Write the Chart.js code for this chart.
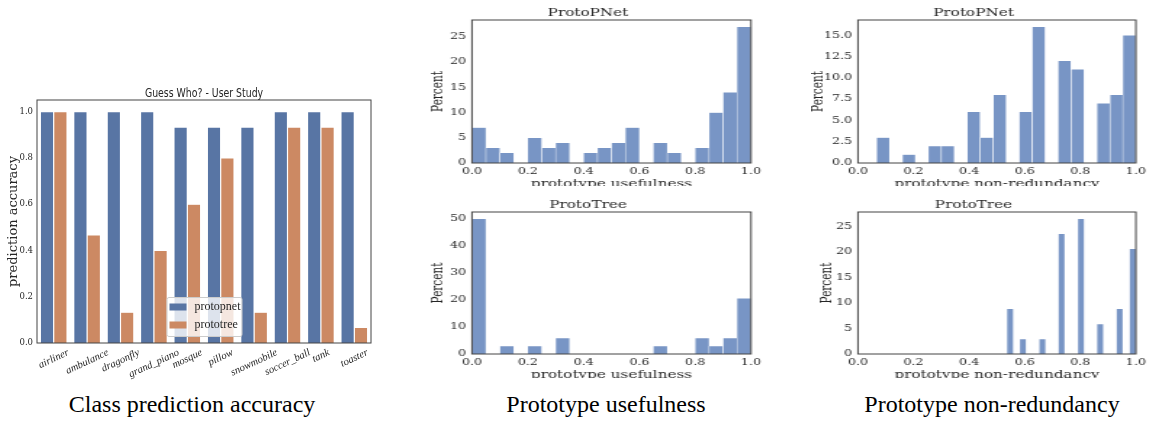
<!DOCTYPE html>
<html>
<head>
<meta charset="utf-8">
<script src="https://cdn.jsdelivr.net/npm/chart.js@4.4.1/dist/chart.umd.min.js"></script>
<style>
  html, body { margin: 0; padding: 0; background: #fff; }
  body { width: 1151px; height: 421px; position: relative; overflow: hidden; }
  .clip { position: absolute; overflow: hidden; }
  .stretch { transform-origin: 0 0; transform: scaleX(1.45); }
  .caption { position: absolute; top: 392px; font-family: 'Liberation Serif', 'Times New Roman', serif;
             font-size: 24px; line-height: 24px; color: #000; white-space: nowrap; transform: translateX(-50%); }
</style>
</head>
<body>
<div class="clip" style="left:0;top:80px;width:380px;height:305px"><canvas id="acc" width="380" height="305"></canvas></div>
<div class="clip" style="left:425px;top:0;width:345px;height:186px"><div class="stretch"><canvas id="useP" width="238" height="200"></canvas></div></div>
<div class="clip" style="left:425px;top:192px;width:345px;height:186px"><div class="stretch"><canvas id="useT" width="238" height="200"></canvas></div></div>
<div class="clip" style="left:811px;top:0;width:340px;height:186px"><div class="stretch"><canvas id="redP" width="234" height="200"></canvas></div></div>
<div class="clip" style="left:811px;top:192px;width:340px;height:186px"><div class="stretch"><canvas id="redT" width="234" height="200"></canvas></div></div>
<div class="caption" style="left:192px">Class prediction accuracy</div>
<div class="caption" style="left:606px">Prototype usefulness</div>
<div class="caption" style="left:992px">Prototype non-redundancy</div>
<script>
// --- user study accuracy per class
const classes = ['airliner', 'ambulance', 'dragonfly', 'grand_piano', 'mosque', 'pillow', 'snowmobile', 'soccer_ball', 'tank', 'toaster'];
const protopnetAcc = [1.0, 1.0, 1.0, 1.0, 0.933, 0.933, 0.933, 1.0, 1.0, 1.0];
const prototreeAcc = [1.0, 0.467, 0.133, 0.4, 0.6, 0.8, 0.133, 0.933, 0.933, 0.067];

// --- histograms (percent per bin), bin left edges
const usefulEdges = [0, 0.05, 0.10, 0.15, 0.20, 0.25, 0.30, 0.35, 0.40, 0.45, 0.50, 0.55, 0.60, 0.65, 0.70, 0.75, 0.80, 0.85, 0.90, 0.95];
const usefulWidth = 0.05;
const pnetUseful = [7, 3, 2, 0, 5, 3, 4, 0, 2, 3, 4, 7, 0, 4, 2, 0, 3, 10, 14, 27];
const treeUseful = [50, 0, 2.94, 0, 2.94, 0, 5.88, 0, 0, 0, 0, 0, 0, 2.94, 0, 0, 5.88, 2.94, 5.88, 20.59];

const pnetRedEdges = [0.067, 0.113, 0.160, 0.207, 0.253, 0.300, 0.347, 0.393, 0.440, 0.487, 0.533, 0.580, 0.627, 0.673, 0.720, 0.767, 0.813, 0.860, 0.907, 0.953];
const pnetRedWidth = 0.0467;
const pnetNonRed = [3, 0, 1, 0, 2, 2, 0, 6, 3, 8, 0, 6, 16, 0, 12, 11, 0, 7, 8, 15];

const treeRedEdges = [0.536, 0.559, 0.582, 0.605, 0.628, 0.652, 0.675, 0.698, 0.721, 0.744, 0.768, 0.791, 0.814, 0.837, 0.860, 0.884, 0.907, 0.930, 0.953, 0.977];
const treeRedWidth = 0.0232;
const treeNonRed = [8.82, 0, 2.94, 0, 0, 2.94, 0, 0, 23.53, 0, 0, 26.47, 0, 0, 5.88, 0, 0, 8.82, 0, 20.59];

const INK = '#262626';
const SPINE = '#444444';
const SERIF = "'DejaVu Serif', serif";
const HIST_COLOR = '#7895c5';

// box round the plot area (matplotlib style spines)
const frame = {
  id: 'frame',
  afterDatasetsDraw(chart) {
    const {ctx, chartArea: a} = chart;
    ctx.save();
    ctx.strokeStyle = SPINE;
    ctx.lineWidth = 1;
    ctx.strokeRect(a.left, a.top, a.right - a.left, a.bottom - a.top);
    ctx.restore();
  }
};

// narrow title of the left figure
const narrowTitle = {
  id: 'narrowTitle',
  afterDraw(chart, args, opts) {
    const {ctx, chartArea: a} = chart;
    ctx.save();
    ctx.font = '13px "DejaVu Sans", sans-serif';
    ctx.fillStyle = INK;
    ctx.textAlign = 'center';
    ctx.textBaseline = 'alphabetic';
    ctx.translate((a.left + a.right) / 2, a.top - 3);
    ctx.scale(0.72, 1);
    ctx.fillText(opts.text, 0, 0);
    ctx.restore();
  }
};

// rotated, centred class names under the bars
const slantLabels = {
  id: 'slantLabels',
  afterDraw(chart) {
    const {ctx, chartArea: a} = chart;
    const xs = chart.scales.x;
    const ang = 25 * Math.PI / 180;
    ctx.save();
    ctx.font = 'italic 10.5px "Liberation Serif", serif';
    ctx.fillStyle = INK;
    ctx.textAlign = 'center';
    ctx.textBaseline = 'middle';
    chart.data.labels.forEach((lab, i) => {
      const w = ctx.measureText(lab).width;
      const h = 9;
      const x = xs.getPixelForValue(i);
      const y = a.bottom + 5 + (w * Math.sin(ang) + h * Math.cos(ang)) / 2;
      ctx.save();
      ctx.translate(x, y);
      ctx.rotate(-ang);
      ctx.fillText(lab, 0, 0);
      ctx.restore();
    });
    ctx.restore();
  }
};

// legend box inside the axes, lower centre
const innerLegend = {
  id: 'innerLegend',
  afterDatasetsDraw(chart) {
    const {ctx, chartArea: a} = chart;
    const w = 75, h = 39;
    const x0 = (a.left + a.right) / 2 - w / 2;
    const y0 = a.bottom - 7 - h;
    ctx.save();
    ctx.fillStyle = 'rgba(255,255,255,0.8)';
    ctx.strokeStyle = '#cccccc';
    ctx.lineWidth = 1;
    ctx.beginPath();
    ctx.roundRect(x0 + 0.5, y0 + 0.5, w, h, 2);
    ctx.fill();
    ctx.stroke();
    chart.data.datasets.forEach((ds, i) => {
      const cy = y0 + 10 + i * 18;
      ctx.fillStyle = ds.backgroundColor;
      ctx.fillRect(x0 + 3, cy - 3.5, 17, 7);
      ctx.fillStyle = INK;
      ctx.font = '12px "Liberation Serif", serif';
      ctx.textAlign = 'left';
      ctx.textBaseline = 'middle';
      ctx.fillText(ds.label, x0 + 28, cy);
    });
    ctx.restore();
  }
};

new Chart(document.getElementById('acc'), {
  type: 'bar',
  data: {
    labels: classes,
    datasets: [
      { label: 'protopnet', data: protopnetAcc, backgroundColor: '#5875a4', borderColor: 'rgba(255,255,255,0.85)', borderWidth: 0.6 },
      { label: 'prototree', data: prototreeAcc, backgroundColor: '#cc8963', borderColor: 'rgba(255,255,255,0.85)', borderWidth: 0.6 }
    ]
  },
  options: {
    responsive: false,
    animation: false,
    datasets: { bar: { categoryPercentage: 0.8, barPercentage: 1 } },
    layout: { padding: { right: 9, top: 20 } },
    plugins: {
      legend: { display: false },
      tooltip: { enabled: false },
      narrowTitle: { text: 'Guess Who? - User Study' }
    },
    scales: {
      x: {
        grid: { display: false, drawTicks: false }, border: { display: false },
        ticks: { display: false },
        afterFit: s => { s.height = 42; }
      },
      y: {
        min: 0, max: 1.05,
        grid: { display: false, drawTicks: false }, border: { display: false },
        ticks: { stepSize: 0.2, includeBounds: false, color: INK, padding: 4,
                 font: { family: SERIF, size: 8.5 }, callback: v => v.toFixed(1) },
        title: { display: true, text: 'prediction accuracy', color: INK,
                 font: { family: SERIF, size: 13 }, padding: { top: 6.2, bottom: 0 } },
        afterFit: s => { s.width = 37; }
      }
    }
  },
  plugins: [frame, slantLabels, innerLegend, narrowTitle]
});

function histChart(id, title, xTitle, edges, width, values, yMax, yStep, yDec, yTitlePad, xAxisH, padRight) {
  const points = edges.map((e, i) => ({ x: e + width / 2, y: values[i] || null }));
  return new Chart(document.getElementById(id), {
    type: 'bar',
    data: {
      datasets: [{ data: points, backgroundColor: HIST_COLOR, borderColor: '#ffffff', borderWidth: 0.5,
                   categoryPercentage: 1, barPercentage: 1 }]
    },
    options: {
      responsive: false,
      animation: false,
      layout: { padding: { right: padRight } },
      plugins: {
        legend: { display: false },
        tooltip: { enabled: false },
        title: { display: true, text: title, color: INK, font: { family: SERIF, size: 10.5, weight: 'normal' },
                 padding: { top: 7, bottom: 0.4 } }
      },
      scales: {
        x: {
          type: 'linear', min: 0, max: 1, offset: false,
          grid: { display: false, offset: false, drawTicks: false }, border: { display: false },
          ticks: { stepSize: 0.2, color: INK, padding: 3, maxRotation: 0,
                   font: { family: SERIF, size: 8.75 }, callback: v => v.toFixed(1) },
          title: { display: true, text: xTitle, color: INK, font: { family: SERIF, size: 10.5 },
                   padding: { top: 0, bottom: xAxisH - 27.6 } },
          afterFit: s => { s.height = xAxisH; }
        },
        y: {
          min: 0, max: yMax,
          grid: { display: false, drawTicks: false }, border: { display: false },
          ticks: { stepSize: yStep, includeBounds: false, color: INK, padding: 4,
                   font: { family: SERIF, size: 8.75 }, callback: v => v.toFixed(yDec) },
          title: { display: true, text: 'Percent', color: INK, font: { family: SERIF, size: 10.5 },
                   padding: { top: yTitlePad, bottom: 0 } },
          afterFit: s => { s.width = 32.4; }
        }
      }
    },
    plugins: [frame]
  });
}

histChart('useP', 'ProtoPNet', 'prototype usefulness', usefulEdges, usefulWidth, pnetUseful, 28.35, 5, 0, 3.1, 37, 13.2);
histChart('useT', 'ProtoTree', 'prototype usefulness', usefulEdges, usefulWidth, treeUseful, 52.5, 10, 0, 3.1, 38, 13.2);
histChart('redP', 'ProtoPNet', 'prototype non-redundancy', pnetRedEdges, pnetRedWidth, pnetNonRed, 16.8, 2.5, 1, -1.1, 37, 9.9);
histChart('redT', 'ProtoTree', 'prototype non-redundancy', treeRedEdges, treeRedWidth, treeNonRed, 27.8, 5, 0, 5.1, 38, 9.9);
</script>
</body>
</html>
